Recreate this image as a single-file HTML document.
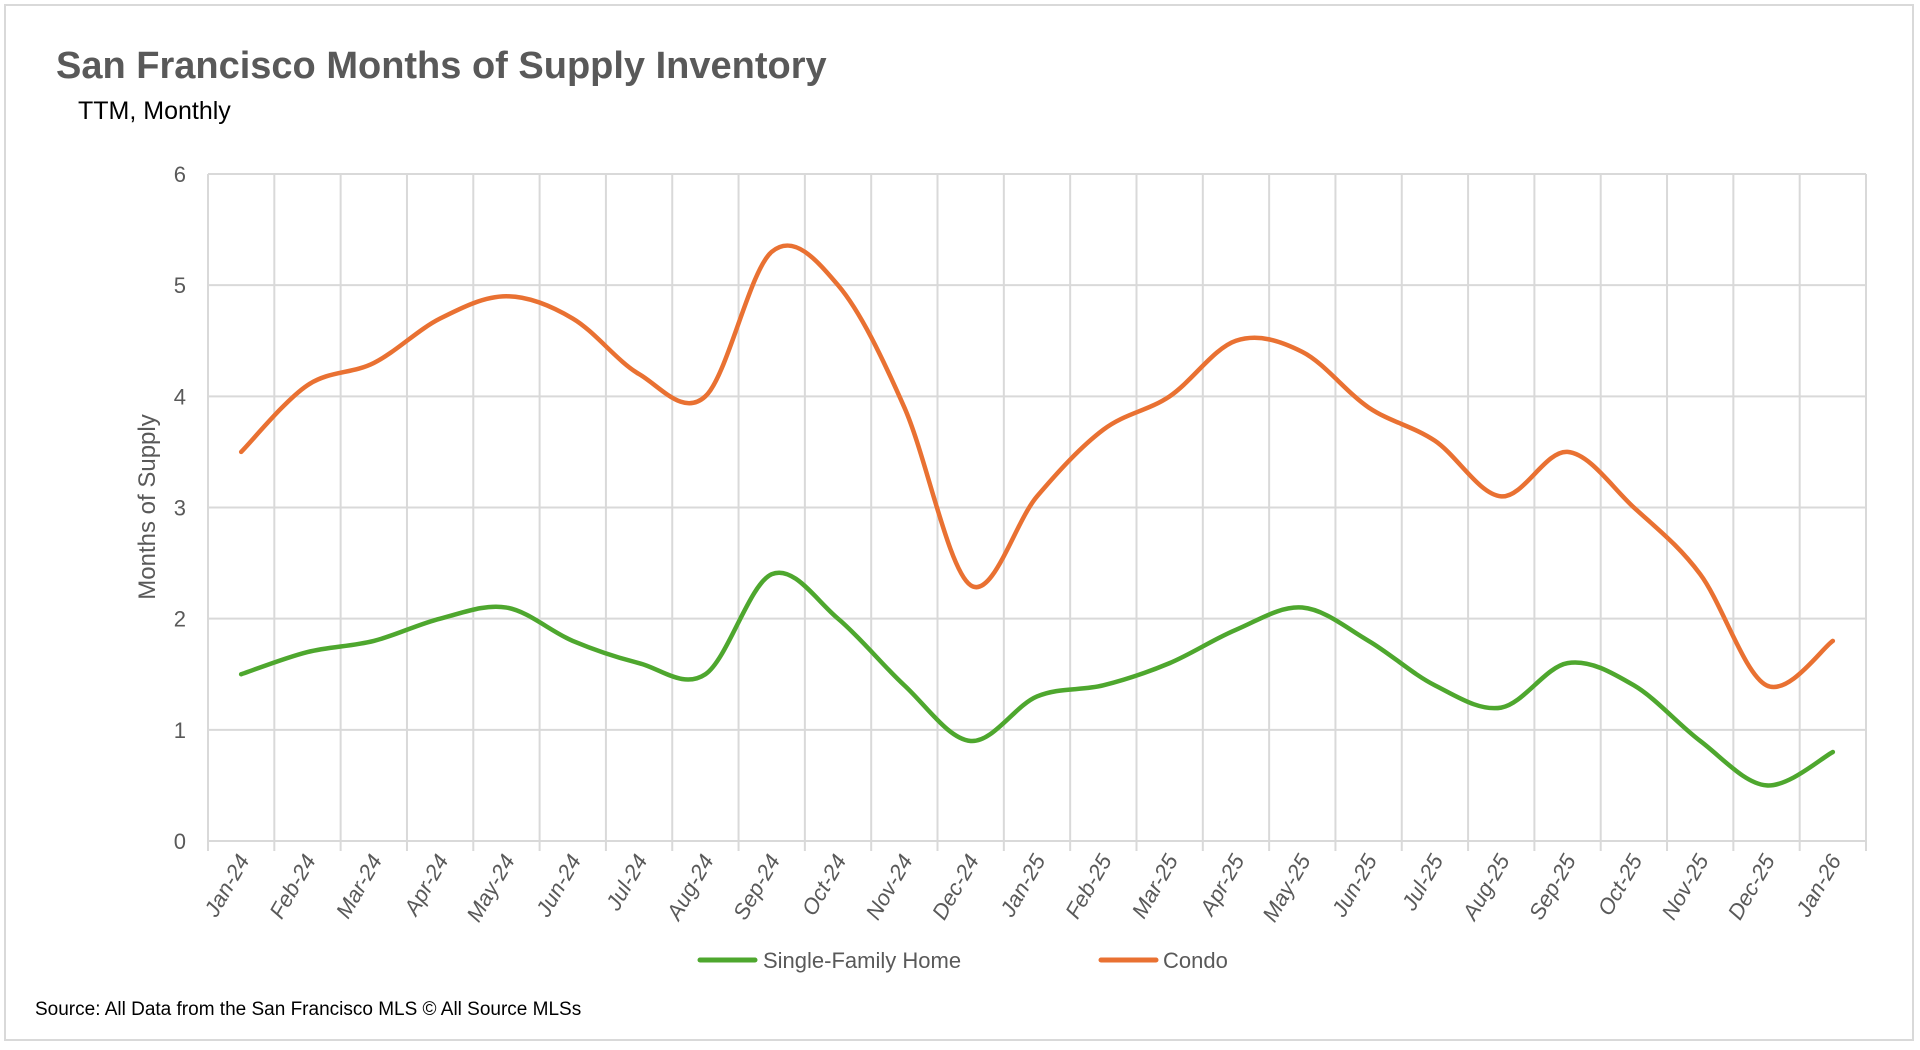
<!DOCTYPE html>
<html><head><meta charset="utf-8"><style>
body{margin:0;background:#fff;}
svg{display:block;font-family:"Liberation Sans",sans-serif;}
</style></head><body>
<svg id="chart" width="1920" height="1050">
<rect x="5" y="5" width="1908" height="1035" fill="#fff" stroke="#d9d9d9" stroke-width="2"/>
<text x="56" y="78" font-size="38" font-weight="bold" fill="#595959">San Francisco  Months of Supply Inventory</text>
<text x="78" y="119" font-size="25" fill="#000">TTM, Monthly</text>
<text transform="translate(155,507) rotate(-90)" text-anchor="middle" font-size="24" fill="#595959">Months of Supply</text>
<g id="grid"></g><g id="ylabels"></g><g id="xlabels"></g><g id="series"></g>
<line x1="700" y1="960" x2="755" y2="960" stroke="#4ea72e" stroke-width="5" stroke-linecap="round"/>
<text x="763" y="968" font-size="22" fill="#595959">Single-Family Home</text>
<line x1="1101" y1="960" x2="1156" y2="960" stroke="#e97132" stroke-width="5" stroke-linecap="round"/>
<text x="1163" y="968" font-size="22" fill="#595959">Condo</text>
<text x="35" y="1015" font-size="19" fill="#000">Source: All Data from the San Francisco MLS © All Source MLSs</text>
</svg>
<script>
const categories=["Jan-24","Feb-24","Mar-24","Apr-24","May-24","Jun-24","Jul-24","Aug-24","Sep-24","Oct-24","Nov-24","Dec-24","Jan-25","Feb-25","Mar-25","Apr-25","May-25","Jun-25","Jul-25","Aug-25","Sep-25","Oct-25","Nov-25","Dec-25","Jan-26"];
const sfhValues=[1.5,1.7,1.8,2.0,2.1,1.8,1.6,1.5,2.4,2.0,1.4,0.9,1.3,1.4,1.6,1.9,2.1,1.8,1.4,1.2,1.6,1.4,0.9,0.5,0.8];
const condoValues=[3.5,4.1,4.3,4.7,4.9,4.7,4.2,4.0,5.3,5.0,3.9,2.3,3.1,3.7,4.0,4.5,4.4,3.9,3.6,3.1,3.5,3.0,2.4,1.4,1.8];
const yTicks=[0,1,2,3,4,5,6];
const NS="http://www.w3.org/2000/svg";
const L=208,R=1866,T=174,B=841,yMax=6;
const bw=(R-L)/categories.length;
function xS(i){return L+bw*(i+0.5);}
function yS(v){return B-(v/yMax)*(B-T);}
function mk(tag,attrs,parent){const e=document.createElementNS(NS,tag);for(const k in attrs)e.setAttribute(k,attrs[k]);parent.appendChild(e);return e;}
const grid=document.getElementById('grid');
yTicks.forEach(t=>{
  const ln=mk('line',{x1:L,x2:R,y1:yS(t),y2:yS(t),stroke:'#d9d9d9','stroke-width':2},grid);
  
  
  const tx=mk('text',{x:L-22,y:yS(t)+8,'text-anchor':'end','font-size':22,fill:'#595959'},document.getElementById('ylabels'));
  tx.textContent=t;
  
  
});
for(let i=0;i<=categories.length;i++){
  const x=L+bw*i;
  const ln=mk('line',{x1:x,x2:x,y1:T,y2:B+10,stroke:'#d9d9d9','stroke-width':2},grid);
  
  
}
categories.forEach((c,i)=>{
  const x=xS(i)+9,y=860;
  const tx=mk('text',{x:x,y:y,'text-anchor':'end','font-size':22,'font-style':'italic',fill:'#595959',transform:`rotate(-60 ${x} ${y})`},document.getElementById('xlabels'));
  tx.textContent=c;
  
  
});
function smooth(vals){
  const p=vals.map((v,i)=>[xS(i),yS(v)]);
  let d=`M${p[0][0]},${p[0][1]}`;
  for(let i=0;i<p.length-1;i++){
    const p0=p[i-1]||p[i],p1=p[i],p2=p[i+1],p3=p[i+2]||p[i+1];
    const c1=[p1[0]+(p2[0]-p0[0])/6,p1[1]+(p2[1]-p0[1])/6];
    const c2=[p2[0]-(p3[0]-p1[0])/6,p2[1]-(p3[1]-p1[1])/6];
    d+=` C${c1[0]},${c1[1]} ${c2[0]},${c2[1]} ${p2[0]},${p2[1]}`;
  }
  return d;
}
const s=document.getElementById('series');
const sfh=mk('path',{d:smooth(sfhValues),fill:'none',stroke:'#4ea72e','stroke-width':4.5,'stroke-linecap':'round'},s);


const condo=mk('path',{d:smooth(condoValues),fill:'none',stroke:'#e97132','stroke-width':4.5,'stroke-linecap':'round'},s);


</script>
</body></html>
